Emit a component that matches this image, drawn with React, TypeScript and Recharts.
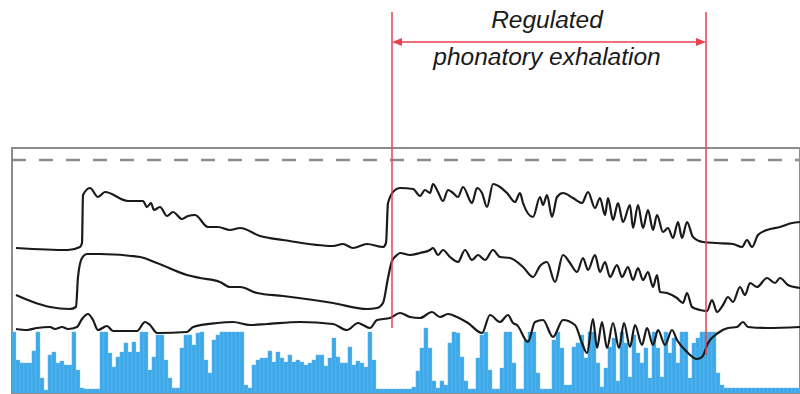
import { ComposedChart, Bar, Line, XAxis, YAxis, ReferenceLine, ReferenceArea } from "recharts";

// time axis t runs 0..788, amplitude axis 0..245 (bars sit at the bottom)
// voicing bars, one every 4 time units
const voicing = [
  61, 33, 30, 30, 30, 42, 61, 15, 3, 38,
  41, 30, 32, 28, 28, 61, 23, 5, 4, 4,
  4, 4, 61, 61, 40, 26, 36, 41, 50, 41,
  51, 41, 61, 61, 23, 36, 58, 58, 33, 15,
  5, 5, 45, 58, 58, 48, 60, 61, 33, 20,
  53, 58, 61, 61, 61, 61, 61, 61, 8, 5,
  28, 33, 35, 35, 42, 31, 41, 35, 31, 38,
  31, 33, 31, 28, 30, 33, 38, 38, 27, 35,
  55, 36, 30, 30, 46, 28, 32, 30, 26, 61,
  33, 4, 4, 4, 4, 4, 4, 4, 4, 4,
  6, 22, 45, 65, 45, 12, 5, 12, 8, 50,
  61, 60, 36, 12, 4, 4, 35, 58, 61, 23,
  4, 4, 25, 61, 61, 30, 4, 4, 53, 61,
  61, 20, 4, 4, 4, 53, 61, 45, 8, 8,
  46, 50, 58, 35, 61, 61, 30, 6, 25, 46,
  55, 12, 61, 50, 16, 58, 40, 30, 45, 15,
  61, 45, 16, 61, 40, 55, 30, 61, 61, 15,
  50, 55, 61, 61, 61, 61, 20, 8, 5, 5,
  5, 5, 5, 5, 5, 5, 5, 5, 5, 5,
  5, 5, 5, 5, 5, 5, 5,
];

// [t, value] samples for the three traces
const upperTrace: [number, number][] = [
  [4, 145], [56, 143], [68, 146], [70, 150], [71, 198], [78, 205], [86, 196], [93, 201],
  [116, 192], [131, 192], [135, 186], [139, 190], [142, 183], [148, 186], [155, 177],
  [161, 181], [170, 174], [176, 177], [183, 178], [196, 166], [206, 166], [218, 163],
  [228, 165], [248, 157], [271, 153], [321, 147], [331, 149], [341, 145], [355, 149],
  [371, 146], [374, 150], [376, 190], [383, 203], [388, 205], [401, 204], [408, 197],
  [413, 203], [418, 200], [421, 209], [426, 201], [431, 192], [436, 203], [441, 200],
  [446, 196], [451, 206], [460, 190], [465, 205], [470, 200], [475, 186], [481, 209],
  [488, 206], [495, 200], [503, 191], [508, 200], [511, 190], [521, 176], [528, 196],
  [531, 188], [535, 198], [540, 176], [545, 196], [551, 200], [561, 195], [570, 190],
  [576, 201], [583, 185], [588, 195], [593, 178], [596, 195], [601, 173], [606, 190],
  [611, 171], [618, 188], [621, 165], [626, 188], [631, 165], [636, 183], [641, 163],
  [645, 178], [651, 161], [656, 165], [661, 155], [666, 171], [670, 155], [675, 171],
  [681, 156], [691, 151], [705, 150], [721, 149], [730, 146], [735, 153], [740, 146],
  [746, 158], [755, 163], [768, 166], [780, 170], [788, 171],
];

const middleTrace: [number, number][] = [
  [4, 98], [21, 91], [38, 86], [58, 84], [64, 86], [66, 116], [70, 135], [75, 139],
  [88, 139], [128, 136], [145, 130], [175, 118], [188, 115], [208, 111], [218, 106],
  [228, 106], [245, 100], [271, 97], [321, 90], [355, 84], [365, 85], [371, 90],
  [376, 115], [380, 132], [385, 138], [388, 140], [398, 138], [408, 140], [418, 143],
  [421, 145], [426, 138], [431, 143], [438, 136], [446, 131], [453, 143], [460, 133],
  [466, 138], [473, 133], [481, 143], [488, 136], [498, 135], [511, 126], [521, 116],
  [528, 127], [535, 131], [543, 111], [551, 138], [558, 130], [565, 121], [571, 135],
  [576, 123], [583, 138], [588, 121], [593, 131], [598, 116], [605, 128], [610, 116],
  [616, 126], [621, 113], [626, 125], [631, 113], [636, 121], [641, 106], [645, 118],
  [648, 101], [655, 100], [665, 95], [671, 90], [675, 100], [680, 86], [688, 83],
  [695, 82], [700, 93], [705, 81], [711, 88], [716, 96], [721, 91], [728, 106],
  [733, 98], [738, 110], [745, 106], [755, 115], [763, 110], [768, 115], [776, 108],
  [788, 105],
];

const lowerTrace: [number, number][] = [
  [4, 64], [15, 63], [25, 65], [38, 66], [43, 64], [50, 66], [56, 64], [65, 66],
  [70, 74], [76, 79], [81, 73], [86, 63], [95, 67], [101, 62], [125, 62], [133, 71],
  [138, 68], [145, 60], [175, 61], [181, 66], [205, 70], [221, 71], [238, 68],
  [255, 69], [288, 71], [321, 69], [335, 63], [346, 70], [351, 68], [358, 65],
  [365, 73], [378, 75], [388, 80], [398, 76], [408, 75], [420, 81], [428, 76],
  [436, 79], [445, 76], [456, 70], [470, 60], [478, 78], [488, 71], [496, 78],
  [501, 70], [505, 68], [516, 51], [523, 71], [531, 73], [541, 56], [551, 73],
  [563, 68], [570, 50], [575, 40], [581, 74], [585, 45], [590, 71], [595, 45],
  [601, 70], [607, 45], [612, 70], [618, 46], [623, 68], [630, 48], [635, 65],
  [641, 48], [646, 63], [653, 48], [660, 63], [665, 53], [675, 41], [685, 34],
  [690, 36], [696, 50], [706, 60], [716, 65], [725, 66], [731, 71], [736, 66],
  [755, 65], [788, 66],
];

const phaseLabel = ["Regulated", "phonatory exhalation"];
const phaseStart = 380;
const phaseEnd = 694;

const RED = "#e8414f";
const GRAY = "#8c8c8c";
const BLUE = "#3ea8e8";

const toRows = (pts: [number, number][]) => pts.map(([t, v]) => ({ t, v }));

// recharts squeezes the band on a number axis, so widen each bar around its centre
function VoicingBar(props: any) {
  const { x, y, width, height } = props;
  if (!height || height <= 0) return null;
  const cx = x + width / 2;
  return <rect x={cx - 2} y={y} width={4} height={height} fill={BLUE} stroke="#62b8ec" strokeWidth={0.4} />;
}

function PhaseArrow(props: any) {
  const { x1, y1, x2 } = props;
  const mid = (x1 + x2) / 2;
  const font = "'Liberation Sans', Arial, sans-serif";
  return (
    <g>
      <line x1={x1 + 6} y1={y1} x2={x2 - 6} y2={y1} stroke={RED} strokeWidth={1.5} />
      <polygon points={`${x1},${y1} ${x1 + 10},${y1 - 4} ${x1 + 10},${y1 + 4}`} fill={RED} />
      <polygon points={`${x2},${y1} ${x2 - 10},${y1 - 4} ${x2 - 10},${y1 + 4}`} fill={RED} />
      <text x={mid - 2} y={y1 - 14} textAnchor="middle" fontStyle="italic" fontSize={24.5}
        fontFamily={font} fill="#1a1a1a">{phaseLabel[0]}</text>
      <text x={mid - 2} y={y1 + 23} textAnchor="middle" fontStyle="italic" fontSize={24.5}
        fontFamily={font} fill="#1a1a1a">{phaseLabel[1]}</text>
    </g>
  );
}

export default function App() {
  const barRows = voicing.map((v, i) => ({ t: i * 4 + 2, v }));

  return (
    <div style={{ position: "fixed", left: 0, top: 0, width: 800, height: 394, background: "#fff" }}>
      <ComposedChart width={800} height={394} data={barRows}
        margin={{ top: 148, right: 0, bottom: 1, left: 12 }}>
        <XAxis dataKey="t" type="number" domain={[0, 788]} hide allowDataOverflow />
        <YAxis type="number" domain={[0, 245]} hide allowDataOverflow />
        <Bar dataKey="v" fill={BLUE} barSize={4} shape={VoicingBar} isAnimationActive={false} />
        <ReferenceArea x1={0} x2={788} y1={0} y2={245} fill="none" stroke={GRAY}
          strokeWidth={2} ifOverflow="visible" />
        <ReferenceLine y={233} stroke={GRAY} strokeWidth={2.5} strokeDasharray="14 13" />
        <Line data={toRows(upperTrace)} dataKey="v" type="monotone" stroke="#1a1a1a"
          strokeWidth={2.2} dot={false} isAnimationActive={false} />
        <Line data={toRows(middleTrace)} dataKey="v" type="monotone" stroke="#1a1a1a"
          strokeWidth={2.2} dot={false} isAnimationActive={false} />
        <Line data={toRows(lowerTrace)} dataKey="v" type="monotone" stroke="#1a1a1a"
          strokeWidth={2.2} dot={false} isAnimationActive={false} />
        <ReferenceLine segment={[{ x: phaseStart, y: 381 }, { x: phaseStart, y: 65 }]}
          stroke={RED} strokeWidth={1.5} ifOverflow="visible" />
        <ReferenceLine segment={[{ x: phaseEnd, y: 381 }, { x: phaseEnd, y: 38 }]}
          stroke={RED} strokeWidth={1.5} ifOverflow="visible" />
        <ReferenceLine segment={[{ x: phaseStart, y: 351 }, { x: phaseEnd, y: 351 }]}
          ifOverflow="visible" shape={PhaseArrow} />
      </ComposedChart>
    </div>
  );
}
